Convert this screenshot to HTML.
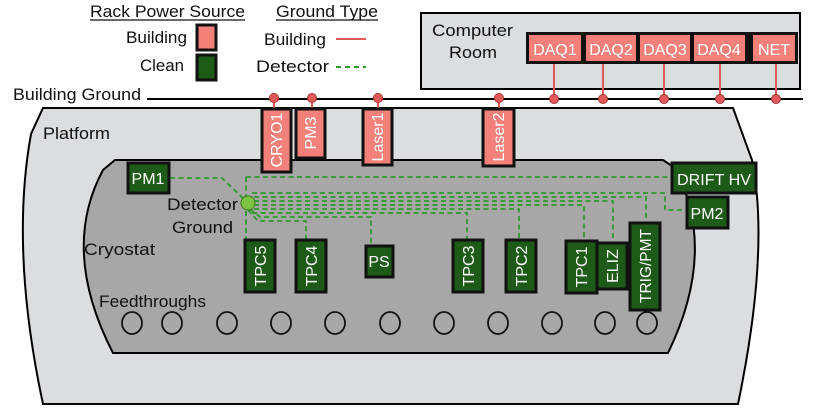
<!DOCTYPE html>
<html><head><meta charset="utf-8"><style>
html,body{margin:0;padding:0;background:#fff}
svg{display:block}
text{font-family:"Liberation Sans",sans-serif}
</style></head><body>
<svg width="813" height="415" viewBox="0 0 813 415" xmlns="http://www.w3.org/2000/svg">
<!-- Platform -->
<path d="M43,108 L733,108 L752,160 Q770,250 738,404 L43,404 Q10,250 31,134 Z" fill="#dcdddf" stroke="#000" stroke-width="2"/>
<!-- Cryostat -->
<path d="M115,160 L663,160 L675,168 Q718,250 668,353 L113,353 Q60,250 103,170 Z" fill="#a6a7a6" stroke="#000" stroke-width="2"/>
<!-- Computer room -->
<rect x="421" y="13" width="379" height="76" fill="#dcdddf" stroke="#000" stroke-width="2"/>
<text x="432" y="36" font-size="17" textLength="81" lengthAdjust="spacingAndGlyphs" fill="#111">Computer</text>
<text x="449" y="58" font-size="17" textLength="48" lengthAdjust="spacingAndGlyphs" fill="#111">Room</text>
<!-- building ground line -->
<text x="13" y="100" font-size="17" textLength="128" lengthAdjust="spacingAndGlyphs" fill="#111">Building Ground</text>
<line x1="147" y1="99" x2="803" y2="99" stroke="#000" stroke-width="2"/>
<!-- red stems -->
<g stroke="#e05a5a" stroke-width="2">
<line x1="554" y1="63" x2="554" y2="99"/><line x1="603" y1="63" x2="603" y2="99"/><line x1="664" y1="63" x2="664" y2="99"/><line x1="720" y1="63" x2="720" y2="99"/><line x1="776" y1="63" x2="776" y2="99"/>
<line x1="274" y1="99" x2="274" y2="110"/><line x1="312" y1="99" x2="312" y2="110"/><line x1="378" y1="99" x2="378" y2="110"/><line x1="499" y1="99" x2="499" y2="110"/>
</g>
<g fill="#e05a5a" stroke="#a33" stroke-width="1">
<circle cx="554" cy="99" r="4.5"/><circle cx="603" cy="99" r="4.5"/><circle cx="664" cy="99" r="4.5"/><circle cx="720" cy="99" r="4.5"/><circle cx="776" cy="99" r="4.5"/>
<circle cx="274" cy="98" r="4.5"/><circle cx="312" cy="98" r="4.5"/><circle cx="378" cy="98" r="4.5"/><circle cx="499" cy="98" r="4.5"/>
</g>
<!-- DAQ boxes -->
<rect x="526" y="32" width="272" height="32" fill="#111"/>
<g fill="#f4807a">
<rect x="529" y="35" width="52" height="26"/><rect x="586" y="35" width="50" height="26"/><rect x="640" y="35" width="50" height="26"/><rect x="694" y="35" width="51" height="26"/><rect x="753" y="35" width="42" height="26"/>
</g>
<g font-size="16" fill="#fff" text-anchor="middle">
<text x="555" y="55">DAQ1</text><text x="611" y="55">DAQ2</text><text x="665" y="55">DAQ3</text><text x="719" y="55">DAQ4</text><text x="774" y="55">NET</text>
</g>
<!-- pink vertical racks -->
<g fill="#f4807a" stroke="#111" stroke-width="3">
<rect x="262" y="109" width="29" height="63"/><rect x="296" y="109" width="29" height="49"/><rect x="363" y="109" width="29" height="56"/><rect x="483" y="109" width="31" height="57"/>
</g>
<g font-size="16" fill="#fff" text-anchor="middle">
<text transform="translate(282,140) rotate(-90)">CRYO1</text>
<text transform="translate(316,133) rotate(-90)">PM3</text>
<text transform="translate(383,137) rotate(-90)">Laser1</text>
<text transform="translate(504,137) rotate(-90)">Laser2</text>
</g>
<!-- dashed detector ground lines -->
<g stroke="#2e9a2e" stroke-width="1.8" stroke-dasharray="5,3.5" fill="none">
<polyline points="170,178 222,178 248,203"/>
<polyline points="246,177 672,177"/>
<polyline points="246,177 246,240"/>
<polyline points="252,193 665,193 665,210 687,210"/>
<polyline points="254,197 646,197 646,223"/>
<polyline points="254,201 613,201 613,242"/>
<polyline points="254,205 584,205 584,240"/>
<polyline points="254,209 519,209 519,240"/>
<polyline points="252,213 467,213 467,240"/>
<polyline points="250,209 260,217 371,217 371,246"/>
<polyline points="248,210 258,221 306,221 306,240"/>
</g>
<circle cx="248" cy="203" r="7" fill="#7dc242" stroke="#3a7a1a" stroke-width="1"/>
<!-- green boxes -->
<g fill="#1e5a18" stroke="#111" stroke-width="3">
<rect x="128" y="163" width="41" height="30"/>
<rect x="672" y="163" width="84" height="30"/>
<rect x="687" y="197" width="41" height="31"/>
<rect x="245" y="240" width="30" height="52"/>
<rect x="296" y="240" width="30" height="52"/>
<rect x="366" y="246" width="27" height="31"/>
<rect x="453" y="240" width="30" height="52"/>
<rect x="506" y="240" width="30" height="52"/>
<rect x="566" y="241" width="31" height="52"/>
<rect x="597" y="243" width="30" height="46"/>
<rect x="630" y="223" width="30" height="87"/>
</g>
<g font-size="16" fill="#fff" text-anchor="middle">
<text x="148" y="184">PM1</text>
<text x="714" y="185" textLength="74" lengthAdjust="spacingAndGlyphs">DRIFT HV</text>
<text x="707" y="219">PM2</text>
<text x="379" y="267">PS</text>
<text transform="translate(266,266) rotate(-90)">TPC5</text>
<text transform="translate(317,266) rotate(-90)">TPC4</text>
<text transform="translate(474,266) rotate(-90)">TPC3</text>
<text transform="translate(527,266) rotate(-90)">TPC2</text>
<text transform="translate(587,267) rotate(-90)">TPC1</text>
<text transform="translate(618,266) rotate(-90)">ELIZ</text>
<text transform="translate(651,266) rotate(-90)" textLength="74" lengthAdjust="spacingAndGlyphs">TRIG/PMT</text>
</g>
<!-- feedthroughs -->
<g fill="none" stroke="#111" stroke-width="1.8">
<ellipse cx="132" cy="323" rx="10" ry="11"/><ellipse cx="172" cy="323" rx="10" ry="11"/><ellipse cx="227" cy="323" rx="10" ry="11"/><ellipse cx="281" cy="323" rx="10" ry="11"/><ellipse cx="335" cy="323" rx="10" ry="11"/><ellipse cx="390" cy="323" rx="10" ry="11"/><ellipse cx="444" cy="323" rx="10" ry="11"/><ellipse cx="498" cy="323" rx="10" ry="11"/><ellipse cx="552" cy="323" rx="10" ry="11"/><ellipse cx="605" cy="323" rx="10" ry="11"/><ellipse cx="647" cy="323" rx="10" ry="11"/>
</g>
<!-- labels -->
<g font-size="17" fill="#111" lengthAdjust="spacingAndGlyphs">
<text x="43" y="139" textLength="67" lengthAdjust="spacingAndGlyphs">Platform</text>
<text x="167" y="210" textLength="71" lengthAdjust="spacingAndGlyphs">Detector</text>
<text x="172" y="233" textLength="61" lengthAdjust="spacingAndGlyphs">Ground</text>
<text x="84" y="255" textLength="71" lengthAdjust="spacingAndGlyphs">Cryostat</text>
<text x="99" y="307" textLength="107" lengthAdjust="spacingAndGlyphs">Feedthroughs</text>
</g>
<!-- legend -->
<g font-size="17" fill="#111">
<text x="90" y="17" textLength="155" lengthAdjust="spacingAndGlyphs">Rack Power Source</text>
<text x="276" y="17" textLength="102" lengthAdjust="spacingAndGlyphs">Ground Type</text>
<text x="126" y="43" textLength="61" lengthAdjust="spacingAndGlyphs">Building</text>
<text x="140" y="71" textLength="44" lengthAdjust="spacingAndGlyphs">Clean</text>
<text x="264" y="45" textLength="62" lengthAdjust="spacingAndGlyphs">Building</text>
<text x="256" y="72" textLength="73" lengthAdjust="spacingAndGlyphs">Detector</text>
</g>
<line x1="90" y1="20" x2="245" y2="20" stroke="#111" stroke-width="1.2"/>
<line x1="276" y1="20" x2="378" y2="20" stroke="#111" stroke-width="1.2"/>
<rect x="197" y="25" width="19" height="25" fill="#f4807a" stroke="#111" stroke-width="3"/>
<rect x="197" y="55" width="19" height="25" fill="#1e5a18" stroke="#111" stroke-width="3"/>
<line x1="336" y1="39" x2="366" y2="39" stroke="#e05a5a" stroke-width="2"/>
<line x1="336" y1="67" x2="366" y2="67" stroke="#2e9a2e" stroke-width="2" stroke-dasharray="5,4"/>
</svg>
</body></html>
